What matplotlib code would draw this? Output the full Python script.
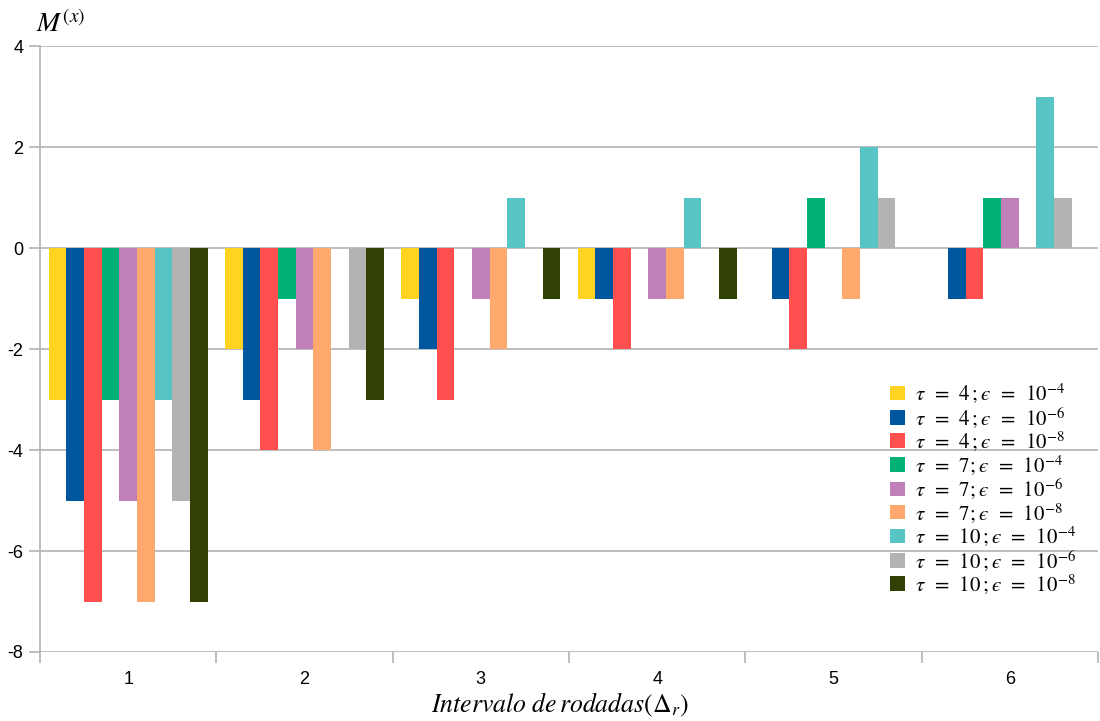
import matplotlib.pyplot as plt
import numpy as np

plt.rcParams["mathtext.fontset"] = "stix"
plt.rcParams["font.family"] = ["Liberation Sans", "DejaVu Sans"]

groups = ["1", "2", "3", "4", "5", "6"]
labels = [
    "$\\tau\\ \\,=\\ \\,4\\,;\u03f5\\ \\,=\\ \\,10^{-4}$",
    "$\\tau\\ \\,=\\ \\,4\\,;\u03f5\\ \\,=\\ \\,10^{-6}$",
    "$\\tau\\ \\,=\\ \\,4\\,;\u03f5\\ \\,=\\ \\,10^{-8}$",
    "$\\tau\\ \\,=\\ \\,7;\u03f5\\ \\,=\\ \\,10^{-4}$",
    "$\\tau\\ \\,=\\ \\,7;\u03f5\\ \\,=\\ \\,10^{-6}$",
    "$\\tau\\ \\,=\\ \\,7;\u03f5\\ \\,=\\ \\,10^{-8}$",
    "$\\tau\\ \\,=\\ \\,10\\,;\u03f5\\ \\,=\\ \\,10^{-4}$",
    "$\\tau\\ \\,=\\ \\,10\\,;\u03f5\\ \\,=\\ \\,10^{-6}$",
    "$\\tau\\ \\,=\\ \\,10\\,;\u03f5\\ \\,=\\ \\,10^{-8}$",
]
colors = ["#ffd320", "#00579e", "#ff4f4f", "#00b274", "#bf7fb8",
          "#ffa96f", "#57c5c6", "#b3b3b3", "#314004"]

# one list per series, values for intervals 1..6
t4_e4 = [-3, -2, -1, -1, 0, 0]
t4_e6 = [-5, -3, -2, -1, -1, -1]
t4_e8 = [-7, -4, -3, -2, -2, -1]
t7_e4 = [-3, -1, 0, 0, 1, 1]
t7_e6 = [-5, -2, -1, -1, 0, 1]
t7_e8 = [-7, -4, -2, -1, -1, 0]
t10_e4 = [-3, 0, 1, 1, 2, 3]
t10_e6 = [-5, -2, 0, 0, 1, 1]
t10_e8 = [-7, -3, -1, -1, 0, 0]
series = [t4_e4, t4_e6, t4_e8, t7_e4, t7_e6, t7_e8, t10_e4, t10_e6, t10_e8]

fig = plt.figure(figsize=(11, 7.21), dpi=100)
ax = fig.add_axes([40 / 1100, 1 - 652 / 721, 1058 / 1100, 606 / 721])

x = np.arange(len(groups))
w = 0.1
for i, (vals, lab, col) in enumerate(zip(series, labels, colors)):
    ax.bar(x - 0.4 + i * w, vals, width=w, color=col, label=lab,
           linewidth=0, zorder=3)

ax.set_xlim(-0.5, len(groups) - 0.5)
ax.set_ylim(-8, 4)
ax.set_yticks(range(-8, 5, 2))
ax.set_yticklabels([str(v) for v in range(-8, 5, 2)], fontsize=13)
ax.set_xticks(x)
ax.set_xticklabels(groups, fontsize=13)
ax.set_xticks(np.arange(-0.5, len(groups)), minor=True)
ax.tick_params(axis="x", which="major", length=0, pad=14)
ax.tick_params(axis="x", which="minor", length=8, color="#b3b3b3", width=1.2)
ax.tick_params(axis="y", length=8, color="#b3b3b3", width=1.2, pad=4)

ax.grid(axis="y", color="#b3b3b3", linewidth=1.2, zorder=0)
for s in ["top", "right", "bottom"]:
    ax.spines[s].set_visible(False)
ax.spines["left"].set_color("#b3b3b3")
ax.spines["left"].set_linewidth(1.2)

leg = ax.legend(loc="lower right", bbox_to_anchor=(0.993, 0.068), frameon=False,
                fontsize=15, handlelength=0.7, handleheight=0.7,
                handletextpad=0.5, labelspacing=0.0, borderpad=0.2)

fig.text(36 / 1100, 1 - 24 / 721, r"$M^{\left(x\right)}$", fontsize=20, va="center")
fig.text(560 / 1100, 1 - 705 / 721, r"$Intervalo\ de\,rodadas\left(\Delta_r\right)$",
         fontsize=18.5, ha="center", va="center")

fig.savefig("out.png", dpi=100)
